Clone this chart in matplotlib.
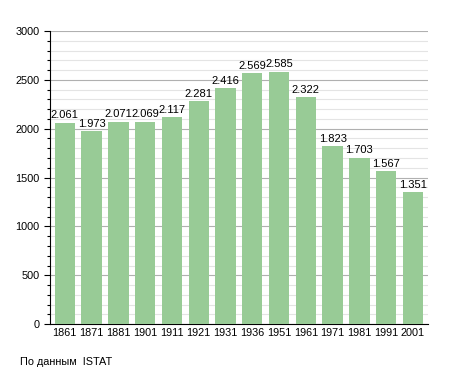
import matplotlib.pyplot as plt
from matplotlib.ticker import MultipleLocator

plt.rcParams['font.family'] = ['Liberation Sans', 'DejaVu Sans']

years = ['1861', '1871', '1881', '1901', '1911', '1921', '1931',
         '1936', '1951', '1961', '1971', '1981', '1991', '2001']
population = [2061, 1973, 2071, 2069, 2117, 2281, 2416,
              2569, 2585, 2322, 1823, 1703, 1567, 1351]

fig = plt.figure(figsize=(4.55, 3.73), dpi=100)
ax = fig.add_axes([0.11, 0.131, 0.83, 0.786])

x = range(len(years))
ax.bar(x, population, width=0.76, color='#98cb96', zorder=3)

for xi, v in zip(x, population):
    label = f"{v:,}".replace(',', '.')
    ax.text(xi, v + 25, label, ha='center', va='bottom', fontsize=8, zorder=4)

ax.set_xlim(-0.55, len(years) - 0.45)
ax.set_ylim(0, 3000)
ax.set_xticks(list(x))
ax.set_xticklabels(years, fontsize=7.8)
ax.yaxis.set_major_locator(MultipleLocator(500))
ax.yaxis.set_minor_locator(MultipleLocator(100))
ax.tick_params(axis='y', labelsize=7.8, length=4, width=0.8)
ax.tick_params(axis='y', which='minor', length=2.5, width=0.8)
ax.tick_params(axis='x', length=0, pad=3)

ax.grid(axis='y', which='minor', color='#e4e4e4', linewidth=0.8, zorder=0)
ax.grid(axis='y', which='major', color='#b0b0b0', linewidth=0.8, zorder=1)

for s in ['top', 'right']:
    ax.spines[s].set_visible(False)

fig.text(0.044, 0.022, 'По данным  ISTAT', fontsize=7.8)

plt.savefig('out.png', dpi=100)
